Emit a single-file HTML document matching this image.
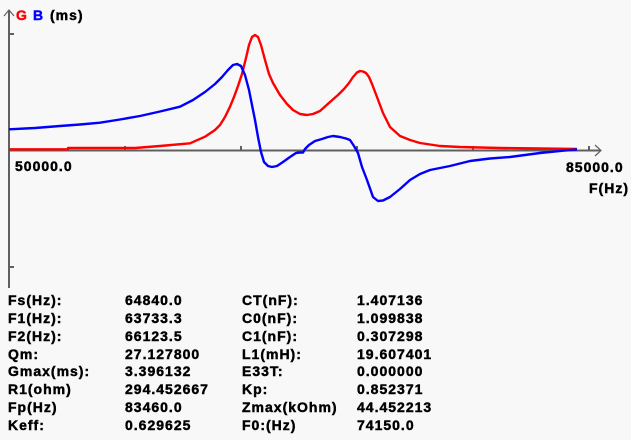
<!DOCTYPE html>
<html><head><meta charset="utf-8"><style>
html,body{margin:0;padding:0;background:#f8f8f8;}
svg{display:block;}
text{font-family:"Liberation Sans",sans-serif;font-weight:700;font-size:14px;letter-spacing:1px;fill:#000;stroke:#000;stroke-width:0.45px;}
</style></head><body>
<svg width="631" height="440" viewBox="0 0 631 440" xmlns="http://www.w3.org/2000/svg">
<rect width="631" height="440" fill="#f8f8f8"/>
<g stroke="#606060" stroke-width="2" fill="none">
<line x1="9" y1="10" x2="9" y2="288"/>
<polyline points="4,16 9,10 14,16" stroke-width="1.2"/>
<line x1="9" y1="34" x2="14" y2="34"/>
<line x1="9" y1="267" x2="14" y2="267"/>
<line x1="9" y1="150.5" x2="600" y2="150.5"/>
<polyline points="595,145 601,150.5 595,156" stroke-width="1.2"/>
<line x1="125" y1="146" x2="125" y2="150"/>
<line x1="241" y1="146" x2="241" y2="150"/>
<line x1="357" y1="146" x2="357" y2="150"/>
<line x1="473" y1="146" x2="473" y2="150"/>
<line x1="589" y1="146" x2="589" y2="150"/>
</g>
<polyline fill="none" stroke="#ff0000" stroke-width="2.4" stroke-linejoin="round" points="9,149.3 68,149.3 68,148 135,148 160,146 190,143.3 205,136.7 215,130 220,125 225,117 230,106.7 234,97 238,86 242,74 246,58 249,45 252,37 255,35 258,37 261,45 265,60 269,74 273,83 280,95 287,104 293,110 300,114 307,115 313,114 320,111 330,102 338,95 344,89 349,83 353,77 357,72.5 360,71 363,71.5 366,73 369,77 372,84 377,97 383,113 390,127 400,136 410,140 420,143 440,146 460,147 500,148 540,148.5 577,149"/>
<polyline fill="none" stroke="#0000ff" stroke-width="2.4" stroke-linejoin="round" points="9,129.3 35,128 60,126 80,124.5 100,122.7 120,119.5 140,116 160,111.5 180,106.7 193,100 205,92 215,84 222,77 228,70 233,65 237,64 241,66 245,75 249,90 252,105 255,120 258,137 261,152 264,162 268,166 272,167 277,166 283,162 290,157 296,153 300,152.5 303,152.5 305,149 309,145 315,141 322,139 328,137 333,136 340,137 346,138.5 350,140 354,146 358,153 362,167 367,180 373,197 378,201 383,200.5 390,197 400,189 410,180 420,174 430,170 450,166 470,161 490,158.5 510,157 540,153 563,150.7 577,149.5"/>
<text x="16" y="20" style="fill:#ff0000;stroke:#ff0000">G</text>
<text x="33" y="20" style="fill:#0000ff;stroke:#0000ff">B</text>
<text x="50" y="20">(ms)</text>
<text x="15" y="171">50000.0</text>
<text x="566" y="172">85000.0</text>
<text x="589" y="193">F(Hz)</text>
<g>
<text x="8" y="305">Fs(Hz):</text><text x="125" y="305">64840.0</text><text x="242" y="305">CT(nF):</text><text x="357" y="305">1.407136</text>
<text x="8" y="323">F1(Hz):</text><text x="125" y="323">63733.3</text><text x="242" y="323">C0(nF):</text><text x="357" y="323">1.099838</text>
<text x="8" y="341">F2(Hz):</text><text x="125" y="341">66123.5</text><text x="242" y="341">C1(nF):</text><text x="357" y="341">0.307298</text>
<text x="8" y="359">Qm:</text><text x="125" y="359">27.127800</text><text x="242" y="359">L1(mH):</text><text x="357" y="359">19.607401</text>
<text x="8" y="376">Gmax(ms):</text><text x="125" y="376">3.396132</text><text x="242" y="376">E33T:</text><text x="357" y="376">0.000000</text>
<text x="8" y="394">R1(ohm)</text><text x="125" y="394">294.452667</text><text x="242" y="394">Kp:</text><text x="357" y="394">0.852371</text>
<text x="8" y="412">Fp(Hz)</text><text x="125" y="412">83460.0</text><text x="242" y="412">Zmax(kOhm)</text><text x="357" y="412">44.452213</text>
<text x="8" y="430">Keff:</text><text x="125" y="430">0.629625</text><text x="242" y="430">F0:(Hz)</text><text x="357" y="430">74150.0</text>
</g>
</svg>
</body></html>
